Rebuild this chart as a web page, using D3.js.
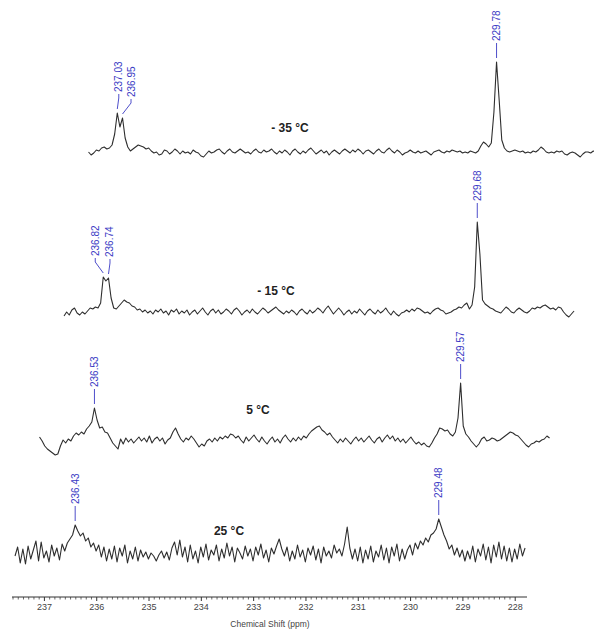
<!DOCTYPE html>
<html>
<head>
<meta charset="utf-8">
<script src="https://cdn.jsdelivr.net/npm/d3@7"></script>
<style>
  body { margin: 0; background: #fff; }
  svg { display: block; font-family: Arial, "Liberation Sans", sans-serif; }
</style>
</head>
<body>
<svg width="594" height="630"></svg>
<script>
// sampling grid of every spectrum (ppm)
const ppmStart = 237.60;
const ppmStep = 0.05;

// intensities, one per grid point, baseline = 0
const trace25 = [
  -3, 6, -10, 4, -11, 7, -6, 3, 12, -8,
  11, -5, 2, -9, 8, -3, 5, -7, 9, 2,
  10, 14, 18, 28, 22, 17, 20, 12, 15, 6,
  10, 2, 8, -4, 6, -8, 4, -6, 7, -9,
  5, -3, 8, -10, 2, -6, 6, -8, 3, -4,
  1, -6, 0, -3, -8, -2, 2, -5, 1, -7,
  5, 11, -2, 13, -4, 6, -9, 8, -6, 2,
  -10, 6, -4, 9, -7, 3, -2, 8, -8, 4,
  -5, 10, -3, 6, -9, 5, 0, -6, 7, -3,
  4, -8, 6, -2, 9, -5, 3, -9, 5, -1,
  7, 14, 4, -3, 6, -8, 2, -6, 8, -4,
  3, -9, 5, -2, 7, -7, 4, -10, 6, -3,
  2, -5, 8, 0, 4, -3, 9, 26, 5, -6,
  4, -8, 6, -10, 3, -6, 7, -9, 2, -4,
  8, -7, 5, -10, 6, -3, 9, -8, 4, -6,
  3, 8, -2, 10, 4, 12, 8, 15, 11, 18,
  20, 24, 34, 26, 18, 12, 4, 8, -2, 5,
  -4, 3, -8, 2, -6, 7, -9, 4, -3, 9,
  -7, 6, -10, 8, -4, 11, -6, 7, -8, 5,
  -9, 4, -6, 9, -3, 5
];
const trace5 = [
  3, -1, -6, -9, -11, -13, -15, -14, -6, 0,
  -3, 1, -1, 4, 7, 5, 8, 6, 11, 14,
  18, 32, 20, 12, 13, 8, 7, 2, -3, -6,
  -9, 1, -4, 2, -2, 1, -3, 0, 3, -1,
  2, -2, 4, -3, 1, 3, -1, 2, -4, 0,
  2, 8, 12, 6, 1, -2, 2, 0, 4, 1,
  -3, -7, -4, -6, -1, 1, -2, 2, -1, 3,
  1, 4, 2, 6, 5, 2, 4, 0, -3, 3,
  -1, 2, 5, 1, -2, 3, -1, -4, 0, 3,
  -2, 1, -3, 2, 5, 1, -2, 2, -1, 3,
  0, 4, 2, 6, 9, 11, 13, 14, 10, 8,
  5, 7, 3, 0, -3, 1, -2, 2, -1, -4,
  0, 3, -1, 2, -2, 1, 4, 0, -3, 1,
  3, -2, 2, 5, 1, 4, -1, 2, -2, 1,
  -3, 0, 3, -1, -4, -2, -5, -3, -6, -7,
  -3, 2, 6, 12, 11, 9, 10, 6, 4, 8,
  22, 57, 14, 6, 3, -1, -4, -7, -4, 1,
  3, -1, 0, 2, 1, -1, 0, 2, 4, 6,
  8, 7, 5, 4, 1, -2, -5, -7, -4, -3,
  -1, -2, 0, 1, 4, 2
];
const traceM15 = [
  -4, 0, -3, 2, 4, -1, -3, 0, -2, 1,
  4, 3, 5, 4, 9, 35, 31, 34, 14, 4,
  3, 6, 9, 12, 10, 9, 6, 5, 2, 3,
  0, 2, -1, 1, -2, 2, 0, 3, -1, 1,
  -3, 2, 0, 3, -2, 1, -1, 2, -3, 0,
  2, -2, 1, 4, 0, -3, 1, 3, -1, 2,
  -2, 0, 3, 1, -2, 2, 4, 1, -3, 0,
  2, -1, 3, 0, -2, 1, 4, 2, -1, 1,
  3, 5, 2, 0, -2, 1, -1, 2, 0, -3,
  1, 3, 0, -2, 2, -1, 1, 4, 2, -1,
  3, 6, 2, -2, 1, 4, 1, -3, 0, 2,
  -2, 1, -1, 3, 0, -3, 1, 3, 0, -2,
  2, -1, 1, 4, 0, -3, 1, -2, -4, -1,
  0, 2, 0, 3, 1, 4, 3, 1, -1, 0,
  -2, 1, 3, 4, 2, 1, -2, -1, 0, 2,
  3, 5, 4, 7, 9, 3, 7, 25, 90, 58,
  12, 8, 6, 4, 3, 1, 0, -1, 2, 5,
  3, 0, -1, 2, 4, 2, 0, -1, 1, 4,
  3, 5, 4, 6, 7, 5, 3, 4, 2, 5,
  4, 0, -3, -5, -2, 1
];
const traceM35 = [
  0, -3, -1, 2, 1, 4, 5, 3, 4, 7,
  18, 39, 25, 34, 14, 5, 1, 3, 5, 7,
  6, 5, 3, 4, 1, -1, 0, -3, -2, 2,
  1, -2, 0, 3, 1, -2, 1, -1, 0, -2,
  2, 0, -1, -4, -5, -2, 1, -1, 0, 2,
  3, 0, -2, 1, 3, 0, -1, 1, 3, 1,
  -1, 0, -2, 1, 3, 0, -1, 2, 0, 1,
  3, 0, -2, 1, -1, 2, 0, -3, 1, 3,
  0, -2, 1, -1, 2, 4, 1, -2, 0, 2,
  -1, 1, -3, 0, 2, 0, -2, 1, 3, 1,
  -1, 2, 0, 3, 1, -2, 1, 2, 0, -2,
  1, 3, 0, -1, 2, 4, 1, -1, 2, 0,
  -3, -1, 0, 2, 0, -1, 1, -1, 0, 1,
  -1, -3, 0, 1, 2, 0, -1, 1, 0, 2,
  1, 0, 1, -1, 0, -1, 1, 0, -1, 1,
  6, 10, 8, 5, 9, 40, 90, 52, 12, 4,
  1, 0, 1, 2, 1, 0, 1, -1, 0, -1,
  1, 0, 2, 5, 3, 0, -1, 0, -1, 1,
  0, 1, -2, -3, -1, 0, -1, -3, -5, -2,
  0, 0, -1, 1, 0, -1
];

// picked peaks (ppm) and their printed labels
const peakPpm25 = [236.43, 229.48];
const peakPpm5 = [236.53, 229.57];
const peakPpmM15 = [236.82, 236.74, 229.68];
const peakPpmM35 = [237.03, 236.95, 229.78];
const peakText25 = ['236.43', '229.48'];
const peakText5 = ['236.53', '229.57'];
const peakTextM15 = ['236.82', '236.74', '229.68'];
const peakTextM35 = ['237.03', '236.95', '229.78'];

const tempLabels = ['25 °C', '5 °C', '- 15 °C', '- 35 °C'];
const axisTicks = [237, 236, 235, 234, 233, 232, 231, 230, 229, 228];
const axisTitle = 'Chemical Shift (ppm)';

// layout of the stacked plot: horizontal shift, baseline, temperature label spot,
// and a sideways nudge for each peak label
const layout = [
  {dx: 2.5, base: 553, tx: 229, ty: 535, nudge: [0, 0]},
  {dx: 27, base: 440, tx: 258, ty: 414, nudge: [0, 0]},
  {dx: 51.5, base: 312, tx: 276, ty: 295, nudge: [-8, 1.5, 0]},
  {dx: 76, base: 152, tx: 290, ty: 132, nudge: [1.5, 8.5, 0]},
];

const spectra = [
  {values: trace25, ppm: peakPpm25, text: peakText25},
  {values: trace5, ppm: peakPpm5, text: peakText5},
  {values: traceM15, ppm: peakPpmM15, text: peakTextM15},
  {values: traceM35, ppm: peakPpmM35, text: peakTextM35},
];

const svg = d3.select('svg');
const blue = '#3a3ac4';

const x = d3.scaleLinear().domain([237.61, 227.765]).range([12, 527]);
const y = d3.scaleLinear().domain([0, 100]).range([0, 100]);
const ppmAt = i => ppmStart - i * ppmStep;

spectra.forEach((s, k) => {
  const L = layout[k];
  const g = svg.append('g').attr('class', 'spectrum');

  const line = d3.line()
    .x((d, i) => x(ppmAt(i)) + L.dx)
    .y(d => L.base - y(d));

  g.append('path')
    .datum(s.values)
    .attr('fill', 'none')
    .attr('stroke', '#2e2e2e')
    .attr('stroke-width', 1.1)
    .attr('stroke-linejoin', 'round')
    .attr('d', line);

  // peak labels: vertical blue text with a short leader down to the apex
  s.ppm.forEach((p, j) => {
    const near = Math.round((ppmStart - p) / ppmStep);
    const lo = Math.max(0, near - 1);
    const idx = lo + d3.greatestIndex(s.values.slice(lo, near + 2));
    const ax = x(ppmAt(idx)) + L.dx;
    const ay = L.base - y(s.values[idx]);
    const lx = ax + L.nudge[j];
    const textBottom = ay - 21;

    const pts = lx === ax
      ? [[lx, textBottom + 2], [ax, ay - 4]]
      : [[lx, textBottom + 2], [lx, textBottom + 6], [ax, ay - 4]];
    g.append('path')
      .attr('d', d3.line()(pts))
      .attr('fill', 'none')
      .attr('stroke', blue)
      .attr('stroke-width', 0.9);

    g.append('text')
      .attr('transform', `translate(${lx},${textBottom}) rotate(-90)`)
      .attr('dy', '0.35em')
      .attr('font-size', 10)
      .attr('fill', blue)
      .text(s.text[j]);
  });

  g.append('text')
    .attr('x', L.tx)
    .attr('y', L.ty)
    .attr('text-anchor', 'middle')
    .attr('font-size', 12)
    .attr('font-weight', 'bold')
    .attr('fill', '#222')
    .text(tempLabels[k]);
});

// chemical shift axis
const axisY = 597;
const minor = d3.range(2280, 2377, 1).map(v => v / 10).filter(v => v % 1 !== 0);

svg.append('g')
  .attr('transform', `translate(0,${axisY})`)
  .call(d3.axisBottom(x).tickValues(minor).tickSize(2.5).tickFormat(''))
  .call(a => a.select('.domain').remove())
  .selectAll('line').attr('stroke', '#444').attr('stroke-width', 0.8);

const major = svg.append('g')
  .attr('transform', `translate(0,${axisY})`)
  .call(d3.axisBottom(x).tickValues(axisTicks).tickSize(4).tickPadding(3).tickFormat(d3.format('d')));
major.select('.domain')
  .attr('d', `M${x.range()[0]},0H${x.range()[1]}`)
  .attr('stroke', '#333');
major.selectAll('line').attr('stroke', '#333');
major.selectAll('text')
  .attr('font-size', 9)
  .attr('font-family', 'Arial, "Liberation Sans", sans-serif')
  .attr('fill', '#444');

svg.append('text')
  .attr('x', 270)
  .attr('y', 627)
  .attr('text-anchor', 'middle')
  .attr('font-size', 8.5)
  .attr('fill', '#444')
  .text(axisTitle);
</script>
</body>
</html>
